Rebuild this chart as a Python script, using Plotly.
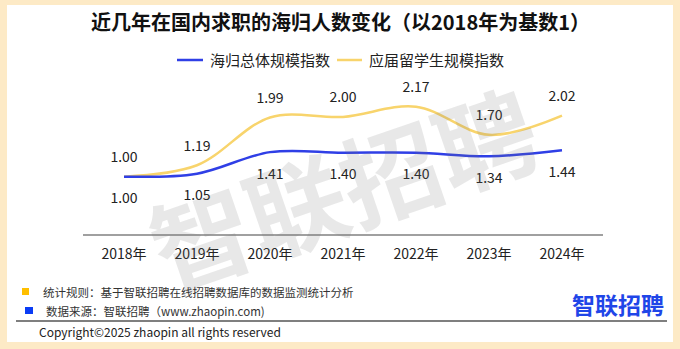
import plotly.graph_objects as go

years = ["2018年", "2019年", "2020年", "2021年", "2022年", "2023年", "2024年"]
overall_index = [1.00, 1.05, 1.41, 1.40, 1.40, 1.34, 1.44]
graduate_index = [1.00, 1.19, 1.99, 2.00, 2.17, 1.70, 2.02]
series_names = ["海归总体规模指数", "应届留学生规模指数"]
title_text = "近几年在国内求职的海归人数变化（以2018年为基数1）"
note_rule = "统计规则：基于智联招聘在线招聘数据库的数据监测统计分析"
note_source = "数据来源：智联招聘（www.zhaopin.com)"
copyright_text = "Copyright©2025 zhaopin all rights reserved"

W, H = 680, 349
FONT = "Noto Sans CJK SC"
BLUE = "#2f3fe6"
YELLOW = "#f8d46c"


def px(x):
    return x / W


def py(y):
    return (H - y) / H


fig = go.Figure()

fig.add_trace(go.Scatter(
    x=years, y=graduate_index, name=series_names[1],
    mode="lines+markers+text", line=dict(color=YELLOW, width=2.5, shape="spline", smoothing=1),
    marker=dict(size=16, color="rgba(0,0,0,0)", line=dict(width=0)),
    text=[f"{v:.2f}" for v in graduate_index], textposition="top center",
    textfont=dict(family=FONT, size=14, color="#222222"),
    cliponaxis=False, showlegend=False, hoverinfo="skip",
))
fig.add_trace(go.Scatter(
    x=years, y=overall_index, name=series_names[0],
    mode="lines+markers+text", line=dict(color=BLUE, width=2.5, shape="spline", smoothing=1),
    marker=dict(size=24, color="rgba(0,0,0,0)", line=dict(width=0)),
    text=[f"{v:.2f}" for v in overall_index], textposition="bottom center",
    textfont=dict(family=FONT, size=14, color="#222222"),
    cliponaxis=False, showlegend=False, hoverinfo="skip",
))

shapes = [
    dict(type="rect", xref="paper", yref="paper", x0=px(7), x1=px(673), y0=py(342), y1=py(5),
         fillcolor="white", line=dict(width=0), layer="below"),
    dict(type="line", xref="paper", yref="paper", x0=px(177), x1=px(203), y0=py(60), y1=py(60),
         line=dict(color=BLUE, width=2.5)),
    dict(type="line", xref="paper", yref="paper", x0=px(337), x1=px(362), y0=py(60), y1=py(60),
         line=dict(color=YELLOW, width=2.5)),
    dict(type="rect", xref="paper", yref="paper", x0=px(22), x1=px(29), y0=py(295), y1=py(288),
         fillcolor="#ffbf00", line=dict(width=0)),
    dict(type="rect", xref="paper", yref="paper", x0=px(25), x1=px(33), y0=py(314), y1=py(307),
         fillcolor="#0a3cf5", line=dict(width=0)),
    dict(type="line", xref="paper", yref="paper", x0=px(16), x1=px(667), y0=py(321), y1=py(321),
         line=dict(color="#555555", width=1.5)),
]


def ann(text, x, y, size, color, xanchor="center", **kw):
    return dict(text=text, x=px(x), y=py(y), xref="paper", yref="paper", xanchor=xanchor,
                yanchor="middle", showarrow=False, font=dict(family=FONT, size=size, color=color), **kw)


annotations = [
    ann("<b>智联招聘</b>", 342, 185, 100, "rgba(120,120,120,0.17)", textangle=-19),
    ann("<b>" + title_text + "</b>", 340, 22, 20, "#111111"),
    ann(series_names[0], 208, 60, 15, "#222222", xanchor="left"),
    ann(series_names[1], 367, 60, 15, "#222222", xanchor="left"),
    ann(note_rule, 41, 292, 11.5, "#333333", xanchor="left"),
    ann(note_source, 44, 311, 11.5, "#333333", xanchor="left"),
    ann(copyright_text, 37, 331, 12, "#222222", xanchor="left"),
    ann("<b>智联招聘</b>", 618, 304, 23, "#1f46e8"),
]

fig.update_layout(
    width=W, height=H,
    margin=dict(l=0, r=0, t=0, b=0),
    paper_bgcolor="#fdeac6",
    plot_bgcolor="rgba(0,0,0,0)",
    showlegend=False,
    shapes=shapes,
    annotations=annotations,
    xaxis=dict(domain=[px(83), px(603)], type="category", showgrid=False, zeroline=False,
               showline=True, linecolor="#a0a0a0", linewidth=1.5, ticks="",
               tickfont=dict(family=FONT, size=14, color="#222222"), ticklabelstandoff=6,
               fixedrange=True),
    yaxis=dict(domain=[py(234), py(87)], range=[0.04, 2.5], visible=False, fixedrange=True),
)

fig.write_html("out.html", config={"displayModeBar": False})
